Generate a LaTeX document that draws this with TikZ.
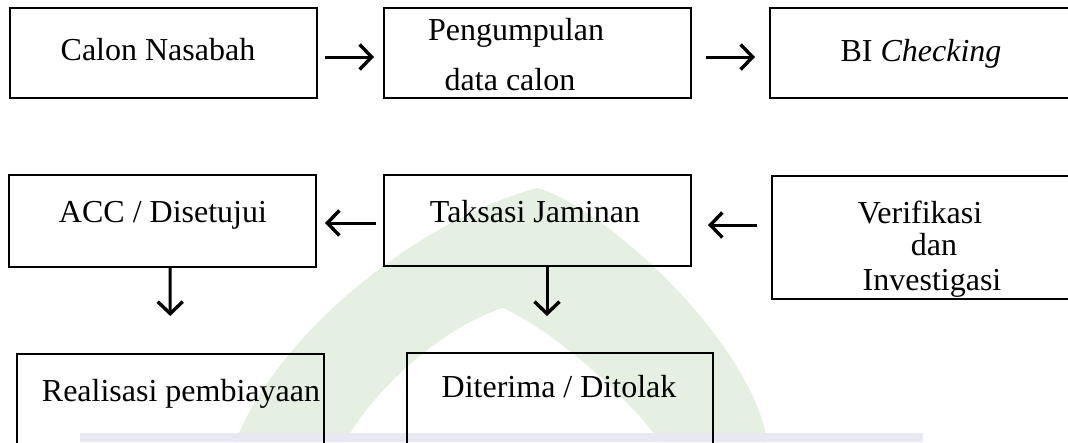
\documentclass[tikz,border=0pt]{standalone}
\usepackage{fontspec}
\setmainfont{Liberation Serif}
\usetikzlibrary{arrows.meta}
\definecolor{wmgreen}{RGB}{229,240,227}
\definecolor{wmband}{RGB}{232,232,242}
\begin{document}
\begin{tikzpicture}[x=1pt,y=-1pt,
  box/.style={draw=black,line width=2pt,rectangle,inner sep=0pt},
  lbl/.style={anchor=base,inner sep=0pt,font=\fontsize{32}{44}\selectfont},
  arr/.style={line width=3pt,-{Straight Barb[length=12pt,width=25pt,line width=3.4pt]}}]
\useasboundingbox (0,0) rectangle (1068,442);
\clip (0,0) rectangle (1068,442);
% faint watermark
\fill[wmgreen] (235,442) .. controls (280,330) and (420,220) .. (537,188)
  .. controls (600,205) and (740,330) .. (765,430) -- (765,442) -- cycle;
\fill[white] (345,442) .. controls (380,380) and (450,325) .. (503,308)
  .. controls (560,335) and (630,400) .. (660,442) -- cycle;
\fill[wmband] (80,433) rectangle (923,442);
% boxes
\node[box,minimum width=307pt,minimum height=90pt] (b1) at (163.5,53) {};
\node[box,minimum width=307pt,minimum height=90pt] (b2) at (537.5,53) {};
\node[box,minimum width=302pt,minimum height=90pt] (b3) at (921,53) {};
\node[box,minimum width=307pt,minimum height=92pt] (b4) at (162.5,221) {};
\node[box,minimum width=307pt,minimum height=91pt] (b5) at (537.5,220.5) {};
\node[box,minimum width=303pt,minimum height=123pt] (b6) at (923.5,237.5) {};
\node[box,minimum width=307pt,minimum height=116pt] (b7) at (170.5,412) {};
\node[box,minimum width=306pt,minimum height=117pt] (b8) at (560,411.5) {};
% texts
\node[lbl] (t1) at (158,60) {Calon Nasabah};
\node[lbl] (t2a) at (516,40) {Pengumpulan};
\node[lbl] (t2b) at (510,90) {data calon};
\node[lbl] (t3) at (921,61) {BI \textit{Checking}};
\node[lbl] (t4) at (163,222) {ACC / Disetujui};
\node[lbl] (t5) at (535,222) {Taksasi Jaminan};
\node[lbl] (t6a) at (920,223) {Verifikasi};
\node[lbl] (t6b) at (934,255) {dan};
\node[lbl] (t6c) at (932,290) {Investigasi};
\node[lbl] (t7) at (181,401) {Realisasi pembiayaan};
\node[lbl] (t8) at (559,397) {Diterima / Ditolak};
% connectors
\draw[arr,shorten <=7pt,shorten >=9pt] ([yshift=-4pt]b1.east) -- ([yshift=-4pt]b2.west);
\draw[arr,shorten <=14pt,shorten >=14pt] ([yshift=-4pt]b2.east) -- ([yshift=-4pt]b3.west);
\draw[arr,shorten <=7pt,shorten >=8pt] ([yshift=-2.5pt]b5.west) -- ([yshift=-2pt]b4.east);
\draw[arr,shorten <=14pt,shorten >=16pt] ([yshift=12.5pt]b6.west) -- ([yshift=-4.5pt]b5.east);
\draw[arr,shorten >=37pt] ([xshift=7.5pt]b4.south) -- (b7.north);
\draw[arr,shorten >=36pt] ([xshift=9.5pt]b5.south) -- ([xshift=-13pt]b8.north);
\end{tikzpicture}
\end{document}
